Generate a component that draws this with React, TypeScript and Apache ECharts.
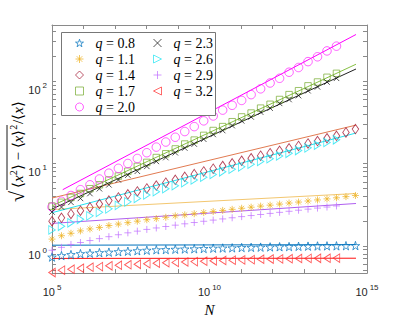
import React, { useEffect, useRef } from "react";
import * as echarts from "echarts";

// sample sizes N (x values)
const N = [1e5, 2e5, 4e5, 8e5, 1.6e6, 3.2e6, 6.4e6, 1.28e7, 2.56e7, 5.12e7, 1.024e8, 2.048e8, 4.096e8, 8.192e8,
  1.6384e9, 3.2768e9, 6.5536e9, 1.31072e10, 2.62144e10, 5.24288e10, 1.048576e11, 2.097152e11, 4.194304e11,
  8.388608e11, 1.6777216e12, 3.3554432e12, 6.7108864e12, 1.34217728e13, 2.68435456e13, 5.36870912e13,
  1.073741824e14, 2.147483648e14, 4.294967296e14];

const qNames = ["0.8", "1.1", "1.4", "1.7", "2.0", "2.3", "2.6", "2.9", "3.2"];

const q08 = [0.732, 0.762, 0.784, 0.805, 0.816, 0.828, 0.839, 0.850, 0.861, 0.873, 0.885, 0.897, 0.902, 0.910, 0.917, 0.922, 0.929, 0.937, 0.942, 0.947, 0.955, 0.960, 0.965, 0.971, 0.976, 0.981, 0.987, 0.992, 0.997, 1.0, 1.001, 1.005, 1.008];
const q11 = [1.209, 1.329, 1.422, 1.522, 1.606, 1.673, 1.767, 1.839, 1.916, 1.995, 2.078, 2.147, 2.224, 2.316, 2.379, 2.458, 2.539, 2.616, 2.695, 2.777, 2.861, 2.948, 3.037, 3.120, 3.215, 3.311, 3.402, 3.505, 3.611, 3.721, 3.833, 3.960, 4.091];
const q14 = [1.995, 2.194, 2.445, 2.674, 2.932, 3.223, 3.543, 3.875, 4.225, 4.584, 4.972, 5.393, 5.849, 6.344, 6.882, 7.423, 8.007, 8.640, 9.319, 10.03, 10.79, 11.57, 12.42, 13.33, 14.26, 15.26, 16.33, 17.48, 18.70, 20.23, 21.64, 23.80, 26.17];
const q17 = [3.04, 3.38, 3.87, 4.32, 4.94, 5.51, 6.31, 7.03, 8.05, 9.22, 10.3, 11.8, 13.1, 15.0, 17.2, 19.2, 21.9, 25.1, 28.0, 32.1, 36.7, 40.9, 46.9, 52.2, 59.7, 68.4, 76.3, 87.4, 97.3, 111, 124];
const q20 = [2.96, 3.48, 4.09, 4.81, 5.51, 6.48, 7.63, 8.73, 10.0, 11.5, 13.5, 15.8, 18.2, 20.8, 24.4, 28.0, 32.9, 37.7, 44.4, 50.8, 58.2, 68.4, 80.5, 94.7, 108, 128, 146, 172, 197, 232, 265];
const q23 = [2.58, 2.96, 3.38, 3.77, 4.32, 4.94, 5.51, 6.31, 7.22, 8.05, 9.22, 10.6, 11.8, 13.5, 15.4, 17.2, 19.7, 22.5, 25.1, 28.8, 32.9, 36.7, 42.0, 46.9, 53.6, 59.7, 66.6, 76.3, 85.0, 97.3, 108];
const q26 = [1.564, 1.729, 1.905, 2.101, 2.316, 2.553, 2.815, 3.103, 3.421, 3.771, 4.147, 4.534, 4.945, 5.378, 5.833, 6.310, 6.826, 7.364, 7.921, 8.500, 9.096, 9.81, 10.59, 11.42, 12.32, 13.29, 14.34, 15.47, 16.64, 17.96, 19.37];
const q29 = [0.885, 0.960, 1.041, 1.099, 1.161, 1.225, 1.294, 1.366, 1.441, 1.510, 1.585, 1.651, 1.719, 1.785, 1.854, 1.921, 1.990, 2.056, 2.124, 2.194, 2.266, 2.334, 2.405, 2.478, 2.553, 2.630, 2.710, 2.792, 2.876, 2.963, 3.053];
const q32 = [0.475, 0.508, 0.522, 0.536, 0.551, 0.561, 0.573, 0.582, 0.590, 0.598, 0.608, 0.616, 0.624, 0.631, 0.638, 0.645, 0.652, 0.659, 0.666, 0.672, 0.677, 0.682, 0.688, 0.692, 0.696, 0.700, 0.703, 0.705, 0.707, 0.709, 0.711];

// fitted power-law lines: [N, value] end points
const fit08 = [[1e5, 1.02], [4.47e14, 1.035]];
const fit11 = [[1e5, 2.76], [4.47e14, 4.32]];
const fit14 = [[1e5, 3.81], [4.47e14, 29.2]];
const fit17 = [[1e5, 3.06], [4.47e14, 160]];
const fit20 = [[2.19e5, 4.81], [4.47e14, 367]];
const fit23 = [[1e5, 2.80], [4.47e14, 140]];
const fit26 = [[1e5, 2.53], [4.47e14, 23.4]];
const fit29 = [[1e5, 1.875], [4.47e14, 3.27]];
const fit32 = [[1e5, 0.705], [4.47e14, 0.709]];

const xTickExps = [5, 6, 7, 8, 9, 10, 11, 12, 13, 14, 15];
const xLabelExps = [5, 10, 15];
const yLabelExps = [0, 1, 2];

const STAR = "path://M50,0L61.8,35.1L98.9,35.1L69.1,56.7L80.3,91.9L50,70.2L19.7,91.9L30.9,56.7L1.1,35.1L38.2,35.1Z";
const ASTER = "path://M50,0L50,100M0,50L100,50M15,15L85,85M85,15L15,85";
const CROSS = "path://M0,0L100,100M100,0L0,100";
const PLUS = "path://M50,0L50,100M0,50L100,50";
const DIAM = "path://M50,0L100,50L50,100L0,50Z";
const TRI_R = "path://M0,0L100,50L0,100Z";
const TRI_L = "path://M100,0L0,50L100,100Z";

const markerDefs = [
  { data: q08, fit: fit08, symbol: STAR, size: 8.5, color: "#0072BD", line: "#0072BD" },
  { data: q11, fit: fit11, symbol: ASTER, size: 7, color: "#EDB120", line: "#F3C770" },
  { data: q14, fit: fit14, symbol: DIAM, size: [6.5, 9.5], color: "#A2142F", line: "#E27B52" },
  { data: q17, fit: fit17, symbol: "rect", size: 6.5, color: "#77AC30", line: "#86C043" },
  { data: q20, fit: fit20, symbol: "circle", size: 8.5, color: "#FF22FF", line: "#FF00FF" },
  { data: q23, fit: fit23, symbol: CROSS, size: 5.5, color: "#111111", line: "#222222" },
  { data: q26, fit: fit26, symbol: TRI_R, size: [6.5, 8.5], color: "#22E4F2", line: "#22E4F2" },
  { data: q29, fit: fit29, symbol: PLUS, size: 7, color: "#C070FF", line: "#B060F0" },
  { data: q32, fit: fit32, symbol: TRI_L, size: [6.5, 8.5], color: "#FF3030", line: "#FF1010" },
];

const FRAME = "#8a8a8a";
const TXT = "#262626";

export default function App() {
  const ref = useRef<HTMLDivElement>(null);
  useEffect(() => {
    document.body.style.margin = "0";
    const chart = echarts.init(ref.current!, null, { renderer: "svg" });
    const lg = Math.log10;
    const yTicks: number[] = [];
    for (const d of [0.1, 1, 10, 100]) {
      for (let m = 1; m <= 9; m++) {
        const v = lg(m * d);
        if (v >= -0.33 && v <= 2.68) yTicks.push(v);
      }
    }
    const supFmt = (v: number) => `10{s|${Math.round(v)}}`;
    const labelRich = { s: { fontSize: 8, padding: [0, 0, 9, 2], fontFamily: "Liberation Sans", color: TXT } };

    const hollow = (c: string) => ({ color: "none", borderColor: c, borderWidth: 0.9 });

    const series: any[] = [];
    markerDefs.forEach((m, i) => {
      series.push({
        name: "fit" + qNames[i],
        type: "line",
        data: m.fit.map((p) => [lg(p[0]), lg(p[1])]),
        showSymbol: false,
        lineStyle: { color: m.line, width: 1 },
        silent: true,
        z: 2,
      });
    });
    markerDefs.forEach((m, i) => {
      series.push({
        name: qNames[i],
        type: "scatter",
        data: m.data.map((v, k) => [lg(N[k]), lg(v)]),
        symbol: m.symbol,
        symbolSize: m.size,
        itemStyle: hollow(m.color),
        z: 3,
      });
    });

    const legendData = (from: number, to: number) =>
      markerDefs.slice(from, to).map((m, j) => ({
        name: qNames[from + j],
        icon: m.symbol,
        itemStyle: hollow(m.color),
      }));

    const legendCommon = {
      orient: "vertical",
      top: 35,
      padding: 0,
      itemGap: 0,
      itemWidth: 8,
      itemHeight: 8,
      symbolKeepAspect: true,
      z: 12,
      formatter: (name: string) => `{i|q} = ${name}`,
      textStyle: {
        fontFamily: "Liberation Serif",
        fontSize: 14,
        lineHeight: 16,
        color: "#000",
        padding: [0, 0, 0, 7],
        rich: { i: { fontStyle: "italic", fontFamily: "Liberation Serif", fontSize: 14, lineHeight: 16 } },
      },
    };

    const makeX = (pos: string, labels: boolean) => ({
      type: "value",
      position: pos,
      min: 5,
      max: 15,
      splitLine: { show: false },
      axisLine: { onZero: false, lineStyle: { color: FRAME, width: 1 } },
      axisTick: { inside: true, length: 4, customValues: xTickExps, lineStyle: { color: FRAME } },
      axisLabel: labels
        ? { show: true, customValues: xLabelExps, formatter: supFmt, fontFamily: "Liberation Sans", fontSize: 11, color: TXT, margin: 10, rich: labelRich }
        : { show: false },
    });
    const makeY = (pos: string, labels: boolean) => ({
      type: "value",
      position: pos,
      min: -0.33,
      max: 2.68,
      splitLine: { show: false },
      axisLine: { onZero: false, lineStyle: { color: FRAME, width: 1 } },
      axisTick: { inside: true, length: 4, customValues: yTicks, lineStyle: { color: FRAME } },
      axisLabel: labels
        ? { show: true, customValues: yLabelExps, formatter: supFmt, fontFamily: "Liberation Sans", fontSize: 11, color: TXT, margin: 5, padding: [18, 0, 0, 0], rich: labelRich }
        : { show: false },
    });

    const serif = "Liberation Serif";
    chart.setOption({
      animation: false,
      grid: { left: 52, right: 40, top: 25, bottom: 41, containLabel: false },
      xAxis: [
        { ...makeX("bottom", true), name: "N", nameLocation: "middle", nameGap: 24,
          nameTextStyle: { fontFamily: serif, fontStyle: "italic", fontSize: 15, color: "#000" } },
        makeX("top", false),
      ],
      yAxis: [makeY("left", true), makeY("right", false)],
      legend: [
        { ...legendCommon, left: 73, data: legendData(0, 5) },
        { ...legendCommon, left: 151, data: legendData(5, 9) },
      ],
      graphic: [
        {
          type: "rect",
          shape: { x: 61.5, y: 32.5, width: 154, height: 83 },
          style: { fill: "#fff", stroke: "#777", lineWidth: 1 },
          z: 10,
        },
        {
          type: "group",
          x: 17,
          y: 150,
          rotation: Math.PI / 2,
          children: [
            { type: "text", x: -52, y: 0, style: { text: "√", font: `20px '${serif}'`, fill: "#000", verticalAlign: "middle" } },
            { type: "line", shape: { x1: -40, y1: -10, x2: 25, y2: -10 }, style: { stroke: "#000", lineWidth: 0.9 } },
            {
              type: "text", x: -38, y: 1,
              style: {
                text: "⟨{i|x}{s|2}⟩ − ⟨{i|x}⟩{s|2}",
                font: `15px '${serif}'`, fill: "#000", verticalAlign: "middle",
                rich: { i: { fontStyle: "italic", fontFamily: serif, fontSize: 15 }, s: { fontFamily: serif, fontSize: 10, padding: [0, 0, 9, 0] } },
              },
            },
            {
              type: "text", x: 26, y: 1,
              style: {
                text: "/⟨{i|x}⟩",
                font: `15px '${serif}'`, fill: "#000", verticalAlign: "middle",
                rich: { i: { fontStyle: "italic", fontFamily: serif, fontSize: 15 } },
              },
            },
          ],
        },
      ],
      series,
    });
    return () => chart.dispose();
  }, []);
  return <div ref={ref} style={{ width: 407, height: 322 }} />;
}
